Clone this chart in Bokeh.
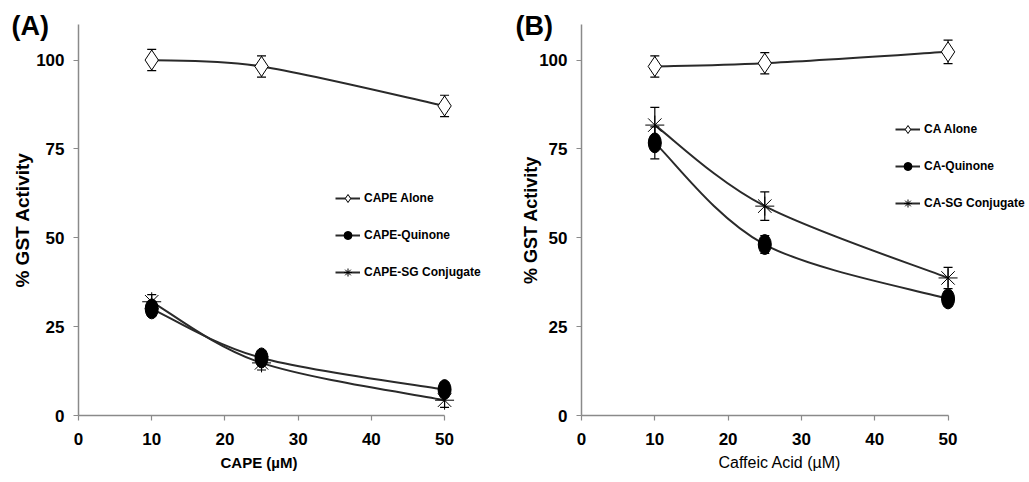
from bokeh.plotting import figure
from bokeh.layouts import row
from bokeh.models import (ColumnDataSource, Whisker, TeeHead, Legend, LegendItem,
                          Title, FixedTicker, Range1d)
from bokeh.embed import file_html
from bokeh.resources import INLINE

# ---------------- data ----------------
conc = [10, 25, 50]

cape_alone = [100.0, 98.2, 87.1]
cape_alone_err = [3.0, 3.0, 3.0]
cape_quinone = [30.0, 16.2, 7.3]
cape_quinone_err = [2.0, 2.0, 2.0]
cape_sg = [32.0, 14.8, 4.3]
cape_sg_err = [2.0, 2.0, 2.0]

ca_alone = [98.2, 99.1, 102.3]
ca_alone_err = [3.0, 3.0, 3.3]
ca_quinone = [76.7, 48.1, 32.8]
ca_quinone_err = [4.5, 2.5, 2.0]
ca_sg = [81.7, 58.9, 38.7]
ca_sg_err = [5.0, 4.0, 3.0]

x_ticks = [0, 10, 20, 30, 40, 50]
y_ticks = [0, 25, 50, 75, 100]

SANS = "'Liberation Sans', Arial, sans-serif"
LINE_COLOR = "#2a2a2a"
AXIS_COLOR = "#8a8a8a"
PX_PER_X = 7.33
HEIGHT = 480


def bezier_segments(xs, ys):
    """Excel-style smoothed line: one cubic Bezier per pair of neighbouring points."""
    n = len(xs)
    seg = dict(x0=[], y0=[], x1=[], y1=[], cx0=[], cy0=[], cx1=[], cy1=[])
    for i in range(n - 1):
        xa, ya = (xs[i - 1], ys[i - 1]) if i > 0 else (xs[i], ys[i])
        xb, yb = xs[i], ys[i]
        xc, yc = xs[i + 1], ys[i + 1]
        xd, yd = (xs[i + 2], ys[i + 2]) if i + 2 < n else (xs[i + 1], ys[i + 1])
        seg["x0"].append(xb); seg["y0"].append(yb)
        seg["x1"].append(xc); seg["y1"].append(yc)
        seg["cx0"].append(xb + (xc - xa) / 6.0); seg["cy0"].append(yb + (yc - ya) / 6.0)
        seg["cx1"].append(xc - (xd - xb) / 6.0); seg["cy1"].append(yc - (yd - yb) / 6.0)
    return ColumnDataSource(seg)


def add_errors(p, xs, ys, errs):
    src = ColumnDataSource(dict(x=xs, lo=[y - e for y, e in zip(ys, errs)],
                                hi=[y + e for y, e in zip(ys, errs)]))
    w = Whisker(source=src, base="x", lower="lo", upper="hi",
                line_color="black", line_width=1.2,
                upper_head=TeeHead(size=9, line_color="black", line_width=1.2),
                lower_head=TeeHead(size=9, line_color="black", line_width=1.2))
    p.add_layout(w)


def make_panel(width, frame_left, x_end, alone, alone_err, quin, quin_err, sg, sg_err,
               names, xlabel, xlabel_bold, xlabel_offset, tag, tag_offset, legend_xy,
               ylabel_size, ylabel_standoff):
    frame_w = int(round(x_end * PX_PER_X))
    p = figure(width=width, height=HEIGHT, output_backend="svg", toolbar_location=None,
               x_range=Range1d(0, x_end), y_range=Range1d(0, 110),
               min_border_left=frame_left, min_border_right=width - frame_left - frame_w,
               min_border_top=24, min_border_bottom=HEIGHT - 415)
    p.outline_line_color = None
    p.grid.visible = False
    p.background_fill_color = "white"
    p.border_fill_color = "white"

    # panel tag, e.g. "(A)"
    p.title = Title(text=tag, align="left", offset=tag_offset, vertical_align="bottom",
                    text_font=SANS, text_font_style="bold", text_font_size="27px",
                    text_color="black", standoff=-33)

    for ax in (p.xaxis[0], p.yaxis[0]):
        ax.axis_line_color = AXIS_COLOR
        ax.axis_line_width = 1.5
        ax.major_tick_line_color = AXIS_COLOR
        ax.major_tick_line_width = 1.2
        ax.major_tick_out = 5
        ax.major_tick_in = 0
        ax.minor_tick_line_color = None
        ax.major_label_text_font = SANS
        ax.major_label_text_font_style = "bold"
        ax.major_label_text_font_size = "17px"
        ax.major_label_text_color = "black"
        ax.axis_label_text_color = "black"

    p.xaxis.ticker = FixedTicker(ticks=x_ticks)
    p.yaxis.ticker = FixedTicker(ticks=y_ticks)
    p.xaxis.bounds = (0, 50)
    p.xaxis.major_label_standoff = 12
    p.yaxis.major_label_standoff = 9

    p.yaxis.axis_label = "% GST Activity"
    p.yaxis.axis_label_text_font = SANS
    p.yaxis.axis_label_text_font_style = "bold"
    p.yaxis.axis_label_text_font_size = ylabel_size
    p.yaxis.axis_label_standoff = ylabel_standoff

    # x axis title, placed under the 0-50 axis span
    p.add_layout(Title(text=xlabel, align="left", offset=xlabel_offset,
                       text_font=SANS, text_font_style="bold" if xlabel_bold else "normal",
                       text_font_size="15px" if xlabel_bold else "16px",
                       text_color="black", standoff=8), "below")

    # smoothed lines
    bz = dict(x0="x0", y0="y0", x1="x1", y1="y1", cx0="cx0", cy0="cy0",
              cx1="cx1", cy1="cy1", line_color=LINE_COLOR, line_width=2)
    r_alone_l = p.bezier(source=bezier_segments(conc, alone), **bz)
    r_quin_l = p.bezier(source=bezier_segments(conc, quin), **bz)
    r_sg_l = p.bezier(source=bezier_segments(conc, sg), **bz)

    # error bars
    add_errors(p, conc, alone, alone_err)
    add_errors(p, conc, quin, quin_err)
    add_errors(p, conc, sg, sg_err)

    # markers
    r_alone_m = p.scatter(conc, alone, marker="diamond", size=20, fill_color="white",
                          line_color="black", line_width=1)
    p.ellipse(conc, quin, width=13, height=20, width_units="screen",
              height_units="screen", fill_color="black", line_color="black")
    r_quin_m = p.scatter(conc, quin, marker="circle", size=12, fill_color="black",
                         line_color="black")
    r_sg_m = p.scatter(conc, sg, marker="asterisk", size=19, line_color="black",
                       line_width=1)

    legend = Legend(items=[
        LegendItem(label=names[0], renderers=[r_alone_l, r_alone_m]),
        LegendItem(label=names[1], renderers=[r_quin_l, r_quin_m]),
        LegendItem(label=names[2], renderers=[r_sg_l, r_sg_m]),
    ], location=legend_xy, padding=0, margin=0, spacing=17,
        label_height=20, glyph_height=20, glyph_width=25, label_standoff=4,
        border_line_color=None, background_fill_alpha=0,
        label_text_font=SANS, label_text_font_style="bold",
        label_text_font_size="12px", label_text_color="black")
    p.add_layout(legend)
    return p


pA = make_panel(505, 78, 56, cape_alone, cape_alone_err, cape_quinone, cape_quinone_err,
                cape_sg, cape_sg_err,
                ["CAPE Alone", "CAPE-Quinone", "CAPE-SG Conjugate"],
                "CAPE (µM)", True, 142, "(A)", -67, (257, 133), "19px", 0)
pB = make_panel(522, 76, 60.7, ca_alone, ca_alone_err, ca_quinone, ca_quinone_err,
                ca_sg, ca_sg_err,
                ["CA Alone", "CA-Quinone", "CA-SG Conjugate"],
                "Caffeic Acid (µM)", False, 137, "(B)", -66, (314, 202), "18px", -5)

layout = row(pA, pB)
open("out.html", "w").write(file_html(layout, INLINE))
